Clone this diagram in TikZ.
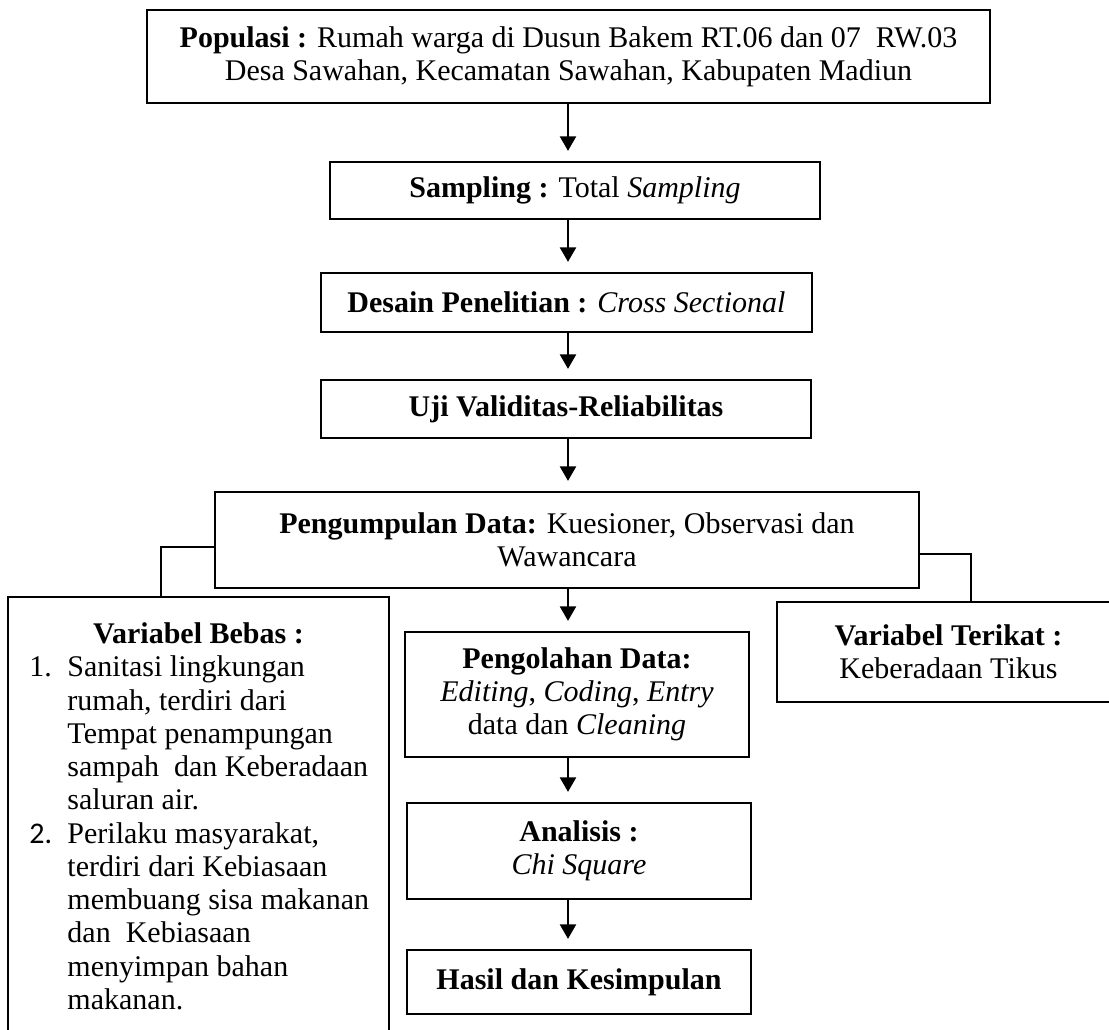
\documentclass[tikz,border=0pt]{standalone}
\usepackage{fontspec}
\setmainfont{Liberation Serif}
\newfontfamily\calibrifont{Carlito}
\usepackage{tikz}
\usetikzlibrary{positioning,arrows.meta,calc}
\newcommand{\pxl}{0.4pt}
\tikzset{
  box/.style={draw, line width=0.9pt, align=center, inner sep=0pt,
              font=\fontsize{12}{13.3}\selectfont},
  flow/.style={-{Triangle[length=5.8pt,width=6.4pt]}, line width=0.9pt, shorten >=4pt},
  link/.style={line width=0.9pt},
}

\begin{document}
\begin{tikzpicture}[x=\pxl, y=-\pxl]
\useasboundingbox (0,0) rectangle (1109,1029);
% main column
\node[box, minimum width=843*\pxl, minimum height=93*\pxl] (pop) at (568.5,56.5)
  {\textbf{Populasi :} Rumah warga di Dusun Bakem RT.06 dan 07~ RW.03\\
   Desa Sawahan, Kecamatan Sawahan, Kabupaten Madiun};
\node[box, minimum width=490*\pxl, minimum height=57*\pxl] (samp) at (575,190.5)
  {\textbf{Sampling :} Total \textit{Sampling}};
\node[box, minimum width=491*\pxl, minimum height=59*\pxl] (desain) at (566.5,302.5)
  {\textbf{Desain Penelitian :} \textit{Cross Sectional}};
\node[box, minimum width=490*\pxl, minimum height=58*\pxl] (uji) at (566,409)
  {\textbf{Uji Validitas-Reliabilitas}};
\node[box, minimum width=704*\pxl, minimum height=96*\pxl] (kumpul) at (567,540)
  {\textbf{Pengumpulan Data:} Kuesioner, Observasi dan\\ Wawancara};
\node[box, minimum width=344*\pxl, minimum height=125*\pxl] (olah) at (577,694.5)
  {\textbf{Pengolahan Data:}\\ \textit{Editing}, \textit{Coding}, \textit{Entry}\\
   data dan \textit{Cleaning}};
\node[box, minimum width=344*\pxl, minimum height=96*\pxl] (analisis) at (579,851)
  {\textbf{Analisis :}\\ \textit{Chi Square}};
\node[box, minimum width=344*\pxl, minimum height=64*\pxl] (hasil) at (579,982)
  {\textbf{Hasil dan Kesimpulan}};
% side boxes
\node[box, minimum width=381*\pxl, minimum height=448*\pxl] (bebas) at (198.5,821)
  {\begin{minipage}{135.2pt}
   {\centering\textbf{Variabel Bebas :}\par}
   \raggedright\noindent
   \begin{tabular}[t]{@{}p{15.2pt}@{}l@{}}
   1. & Sanitasi lingkungan\\
      & rumah, terdiri dari\\
      & Tempat penampungan\\
      & sampah~ dan Keberadaan\\
      & saluran air.\\
   {\calibrifont 2.} & Perilaku masyarakat,\\
      & terdiri dari Kebiasaan\\
      & membuang sisa makanan\\
      & dan~ Kebiasaan\\
      & menyimpan bahan\\
      & makanan.
   \end{tabular}
   \end{minipage}};
\node[box, minimum width=343*\pxl, minimum height=100*\pxl] (terikat) at (948.5,652)
  {\textbf{Variabel Terikat :}\\ Keberadaan Tikus};
% connectors
\coordinate (mid) at (568,0);
\foreach \a/\b in {pop/samp, samp/desain, desain/uji, uji/kumpul,
                   kumpul/olah, olah/analisis, analisis/hasil}
  \draw[flow] (\a.south -| mid) -- (\b.north -| mid);
\coordinate (lbend) at (161,547);
\coordinate (rbend) at (971,554);
\draw[link] (kumpul.west |- lbend) -| (bebas.north -| lbend);
\draw[link] (kumpul.east |- rbend) -| (terikat.north -| rbend);
\end{tikzpicture}
\end{document}
